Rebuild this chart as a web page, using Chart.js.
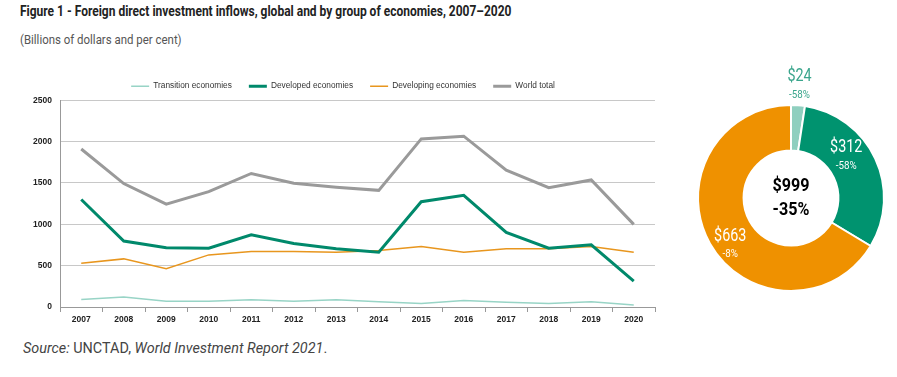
<!DOCTYPE html>
<html>
<head>
<meta charset="utf-8">
<script src="https://cdn.jsdelivr.net/npm/chart.js@4.4.0/dist/chart.umd.min.js"></script>
<style>
  body { margin: 0; background: #fff; width: 897px; height: 377px; position: relative; overflow: hidden; }
  #title { position: absolute; left: 20px; top: 2px; font: bold 15px "Roboto", sans-serif; color: #222; transform: scaleX(0.8); transform-origin: 0 0; white-space: nowrap; }
  #sub { position: absolute; left: 20px; top: 32px; font: 13px "Roboto", sans-serif; color: #555; transform: scaleX(0.88); transform-origin: 0 0; white-space: nowrap; }
  #source { position: absolute; left: 23px; top: 340px; font: 14.4px "Roboto", sans-serif; color: #444; white-space: nowrap; }
  #lineWrap { position: absolute; left: 0; top: 62px; width: 670px; height: 273px; }
  #pieWrap { position: absolute; left: 680px; top: 50px; width: 217px; height: 296px; }
</style>
</head>
<body>
<div id="title">Figure 1 - Foreign direct investment inflows, global and by group of economies, 2007–2020</div>
<div id="sub">(Billions of dollars and per cent)</div>
<div id="lineWrap"><canvas id="lineChart"></canvas></div>
<div id="pieWrap"><canvas id="pieChart"></canvas></div>
<div id="source"><i>Source:</i> UNCTAD, <i>World Investment Report 2021</i>.</div>
<script>
// data (billions of dollars)
const years = ['2007','2008','2009','2010','2011','2012','2013','2014','2015','2016','2017','2018','2019','2020'];
const transition = [90, 120, 70, 70, 88, 70, 88, 62, 41, 80, 57, 41, 62, 24];
const developed = [1300, 797, 718, 712, 874, 768, 704, 663, 1273, 1350, 903, 712, 752, 312];
const developing = [529, 582, 463, 630, 671, 671, 663, 683, 732, 663, 704, 704, 732, 663];
const worldTotal = [1911, 1493, 1244, 1395, 1615, 1496, 1448, 1411, 2033, 2066, 1655, 1444, 1537, 999];

// 2020 split
const shareLabels = ['Transition economies', 'Developed economies', 'Developing economies'];
const share2020 = [24, 312, 663];
const shareChange = ['-58%', '-58%', '-8%'];
const totalLabel = ['$999', '-35%'];

const fam = '"Liberation Sans", Arial, sans-serif';

new Chart(document.getElementById('lineChart'), {
  type: 'line',
  data: {
    labels: years,
    datasets: [
      { label: 'Transition economies', data: transition, borderColor: '#98d4c6', backgroundColor: '#98d4c6', borderWidth: 1.5 },
      { label: 'Developed economies', data: developed, borderColor: '#00896b', backgroundColor: '#00896b', borderWidth: 3 },
      { label: 'Developing economies', data: developing, borderColor: '#e8961e', backgroundColor: '#e8961e', borderWidth: 1.5 },
      { label: 'World total', data: worldTotal, borderColor: '#9a9a9a', backgroundColor: '#9a9a9a', borderWidth: 3 }
    ]
  },
  options: {
    responsive: true,
    maintainAspectRatio: false,
    animation: false,
    elements: { point: { radius: 0 }, line: { tension: 0 } },
    layout: { padding: { left: 31, right: 15, top: 3, bottom: 0 } },
    plugins: {
      tooltip: { enabled: false },
      legend: {
        position: 'top',
        labels: {
          usePointStyle: true,
          pointStyle: 'line',
          pointStyleWidth: 18,
          boxWidth: 18,
          boxHeight: 10,
          padding: 17,
          color: '#333',
          font: { family: fam, size: 8.3 }
        }
      }
    },
    scales: {
      x: {
        offset: true,
        grid: { offset: true, drawOnChartArea: false, tickLength: 5, color: '#999' },
        border: { color: '#999' },
        ticks: { color: '#222', font: { family: fam, size: 8.5, weight: 'bold' }, padding: 3, maxRotation: 0 },
        afterFit: s => { s.height = 28; }
      },
      y: {
        min: 0, max: 2500,
        ticks: { stepSize: 500, color: '#222', font: { family: fam, size: 8.5, weight: 'bold' }, padding: 8,
                 callback: v => String(v) },
        grid: { color: '#c8c8c8', drawTicks: false },
        border: { color: '#999' },
        afterFit: s => { s.width = 29; }
      }
    }
  }
});

// draw horizontally condensed text
function narrowText(ctx, text, x, y, font, sx) {
  ctx.save();
  ctx.font = font;
  ctx.translate(x, y);
  ctx.scale(sx, 1);
  ctx.fillText(text, 0, 0);
  ctx.restore();
}

// labels on the doughnut slices
const sliceLabels = {
  id: 'sliceLabels',
  afterDraw(chart) {
    const ctx = chart.ctx;
    const arcs = chart.getDatasetMeta(0).data;
    const colors = ['#3aa58c', '#fff', '#fff'];
    const rad = [1.21, 0.74, 0.83];
    const shift = [0, -0.2, -0.15];
    ctx.save();
    ctx.textAlign = 'center';
    ctx.textBaseline = 'middle';
    arcs.forEach((arc, i) => {
      const p = arc.getProps(['x', 'y', 'startAngle', 'endAngle', 'outerRadius'], true);
      const a = (p.startAngle + p.endAngle) / 2 + shift[i];
      const r = p.outerRadius * rad[i];
      const cx = p.x + Math.cos(a) * r;
      const cy = p.y + Math.sin(a) * r;
      ctx.fillStyle = colors[i];
      narrowText(ctx, '$' + share2020[i], cx, cy - 9, '17.5px Roboto, sans-serif', 0.82);
      narrowText(ctx, shareChange[i], cx, cy + 9, '11.5px Roboto, sans-serif', 0.85);
    });
    const c = arcs[0];
    ctx.fillStyle = '#000';
    narrowText(ctx, totalLabel[0], c.x, c.y - 12, 'bold 19px Roboto, sans-serif', 0.85);
    narrowText(ctx, totalLabel[1], c.x, c.y + 12, 'bold 19px Roboto, sans-serif', 0.85);
    ctx.restore();
  }
};

new Chart(document.getElementById('pieChart'), {
  type: 'doughnut',
  data: {
    labels: shareLabels,
    datasets: [{
      data: share2020,
      backgroundColor: ['#8fcfbf', '#00936f', '#ef9100'],
      borderColor: '#fff',
      borderWidth: 2
    }]
  },
  options: {
    responsive: true,
    maintainAspectRatio: false,
    animation: false,
    cutout: '51%',
    layout: { padding: { left: 17, right: 12, top: 54, bottom: 54 } },
    plugins: { legend: { display: false }, tooltip: { enabled: false } }
  },
  plugins: [sliceLabels]
});
</script>
</body>
</html>
